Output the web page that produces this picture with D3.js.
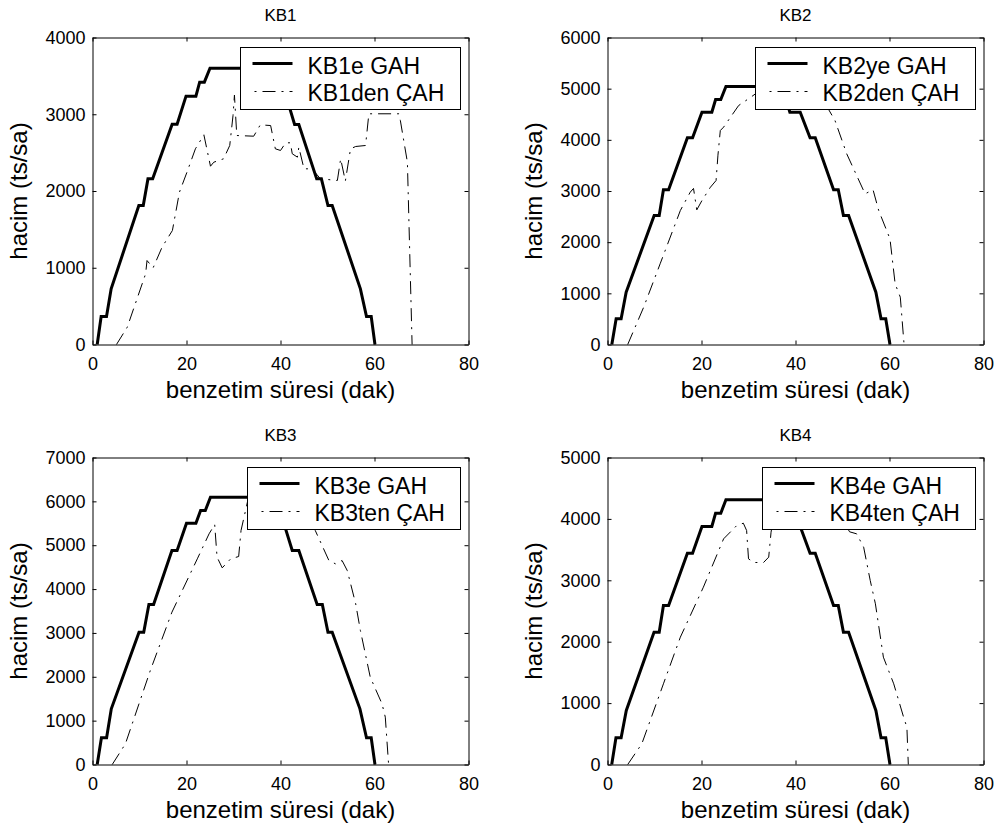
<!DOCTYPE html>
<html>
<head>
<meta charset="utf-8">
<script src="https://cdn.jsdelivr.net/npm/d3@7"></script>
<style>
body { margin: 0; background: #fff; }
text { font-family: "Liberation Sans", Arial, Helvetica, sans-serif; fill: #000; }
</style>
</head>
<body>
<svg id="chart" width="999" height="834"></svg>
<script>
// benzetim süresi (dak) on x, hacim (ts/sa) on y
var xTicks = [0, 20, 40, 60, 80];

var kb1YTicks = [0, 1000, 2000, 3000, 4000];
var kb2YTicks = [0, 1000, 2000, 3000, 4000, 5000, 6000];
var kb3YTicks = [0, 1000, 2000, 3000, 4000, 5000, 6000, 7000];
var kb4YTicks = [0, 1000, 2000, 3000, 4000, 5000];

var kb1Names = ["KB1e GAH", "KB1den ÇAH"];
var kb2Names = ["KB2ye GAH", "KB2den ÇAH"];
var kb3Names = ["KB3e GAH", "KB3ten ÇAH"];
var kb4Names = ["KB4e GAH", "KB4ten ÇAH"];

var kb1Gah = [[1.0,0],[1.84,365],[2.98,365],[3.97,725],[9.86,1811],[10.8,1811],[11.8,2158],[12.8,2158],
  [16.95,2871],[18.0,2871],[19.9,3236],[22.0,3236],[22.8,3418],[23.8,3418],[25.0,3600],[36.1,3600],
  [37.3,3418],[38.3,3418],[39.1,3236],[41.2,3236],[43.0,2866],[43.9,2866],[47.7,2158],[48.7,2158],
  [50.1,1811],[51.0,1811],[57.0,725],[58.3,365],[59.3,365],[60.1,0]];
var kb1Cah = [[5.1,0],[7.4,226],[11.3,921],[11.6,1094],[12.9,999],[14.8,1268],[17,1485],[18.5,1985],
  [20.1,2245],[21.9,2550],[23.7,2732],[25.1,2323],[25.8,2375],[27.9,2420],[29.2,2593],[29.9,2984],
  [30.2,3250],[30.7,2723],[34.3,2714],[35.7,2862],[37.9,2853],[38.9,2550],[40,2528],[41.1,2628],
  [42.1,2628],[42.5,2485],[43.6,2441],[43.9,2571],[45,2289],[46.7,2289],[48.5,2159],[52.1,2137],
  [52.8,2419],[53.8,2130],[54.9,2550],[56,2580],[58.1,2593],[58.8,3006],[65.2,3006],[65.5,2919],
  [67,2375],[68.0,0]];

var kb2Gah = [[0.92,0],[1.84,502],[2.9,502],[3.97,1023],[9.93,2521],[11,2521],[11.9,3023],[13,3023],
  [17,4039],[18.1,4039],[20.1,4541],[22.2,4541],[23,4788],[24.1,4788],[25.2,5042],[35.8,5042],
  [36.9,4788],[38,4788],[38.8,4541],[41,4541],[43.1,4039],[44.2,4039],[48.1,3023],[49.1,3023],
  [50.2,2521],[51.3,2521],[57.1,1023],[58.2,502],[59.2,502],[60.1,0]];
var kb2Cah = [[4.3,0],[7.7,730],[11.2,1577],[15.5,2619],[17.6,2977],[18.3,3050],[19.0,2632],[20.1,2814],
  [21.9,3074],[23.1,3205],[23.5,3700],[24.0,4182],[24.7,4248],[27.9,4671],[30.5,4834],[33,5000],
  [38,5050],[43,4950],[47,4600],[48.4,4378],[50.9,3726],[54.8,2945],[56.5,3023],[57.7,2619],
  [60.1,2065],[61.2,1186],[62.3,925],[63.1,0]];

var kb3Gah = [[1.0,0],[1.9,608],[3.0,608],[4.0,1269],[9.9,3017],[10.9,3017],[12,3648],[13,3648],
  [16.9,4880],[18,4880],[20,5503],[22,5503],[23,5791],[24,5791],[25.1,6096],[36,6096],
  [37,5791],[37.9,5791],[38.7,5503],[40.7,5503],[42.5,4880],[43.9,4880],[47.8,3648],[48.9,3648],
  [50.1,3017],[51,3017],[56.9,1269],[58.3,608],[59.3,608],[60.1,0]];
var kb3Cah = [[4.2,0],[7.0,471],[12.3,2143],[16.9,3473],[22.3,4689],[24.8,5259],[26.0,5472],[26.5,4728],
  [27.6,4484],[29.4,4689],[31.1,4742],[31.6,5335],[33,6000],[40,6100],[45,5800],[47.4,5335],
  [50.3,4651],[51.7,4575],[53.1,4651],[54.2,4423],[56,3663],[57,3055],[59.1,1991],[61.6,1383],
  [62.3,1079],[63.0,0]];

var kb4Gah = [[0.9,0],[1.8,434],[2.9,434],[4.0,880],[9.9,2155],[11,2155],[11.9,2590],[13,2590],
  [17,3442],[18.1,3442],[20.1,3876],[22.2,3876],[23,4093],[24.1,4093],[25.2,4311],[35.8,4311],
  [36.9,4093],[38,4093],[38.8,3876],[41,3876],[43.1,3442],[44.2,3442],[48.1,2590],[49.1,2590],
  [50.2,2155],[51.3,2155],[57.1,880],[58.2,434],[59.2,434],[60.1,0]];
var kb4Cah = [[4.3,0],[7.3,337],[11.9,1314],[15.5,2074],[20.4,2888],[24.7,3675],[27.5,3892],[28.9,3930],
  [29.6,3811],[30,3350],[31.1,3290],[33.2,3290],[34.3,3377],[34.8,3784],[35.5,4100],[44,4250],
  [50,4000],[51.5,3790],[53,3757],[54.5,3540],[55.9,2997],[57,2617],[58.7,1748],[60.9,1314],
  [63,771],[63.7,608],[64,0]];

var plotW = 376;
var plotH = 307;
var dashDot = "13,6,2,6";

var svg = d3.select("#chart");

drawPanel(92.5, 37.5, "KB1", kb1YTicks, kb1Gah, kb1Cah, kb1Names);
drawPanel(607.5, 37.5, "KB2", kb2YTicks, kb2Gah, kb2Cah, kb2Names);
drawPanel(92.5, 457.5, "KB3", kb3YTicks, kb3Gah, kb3Cah, kb3Names);
drawPanel(607.5, 457.5, "KB4", kb4YTicks, kb4Gah, kb4Cah, kb4Names);

function drawPanel(left, top, title, yTicks, gah, cah, names) {
  var x = d3.scaleLinear().domain([0, 80]).range([left, left + plotW]);
  var y = d3.scaleLinear().domain([0, yTicks[yTicks.length - 1]]).range([top + plotH, top]);

  var g = svg.append("g");

  // box with inward ticks on all four sides
  var bottom = g.append("g").attr("transform", "translate(0," + (top + plotH) + ")")
    .call(d3.axisBottom(x).tickValues(xTicks).tickSize(-4).tickSizeOuter(0).tickPadding(13));
  var leftAx = g.append("g").attr("transform", "translate(" + left + ",0)")
    .call(d3.axisLeft(y).tickValues(yTicks).tickFormat(d3.format("d")).tickSize(-4).tickSizeOuter(0).tickPadding(7));
  g.append("g").attr("transform", "translate(0," + top + ")")
    .call(d3.axisTop(x).tickValues(xTicks).tickSize(-4).tickSizeOuter(0).tickFormat(""));
  g.append("g").attr("transform", "translate(" + (left + plotW) + ",0)")
    .call(d3.axisRight(y).tickValues(yTicks).tickSize(-4).tickSizeOuter(0).tickFormat(""));

  g.selectAll(".domain, .tick line").attr("stroke", "#000").attr("stroke-width", 1);
  g.selectAll("g").attr("font-family", null).attr("font-size", null);
  bottom.selectAll("text").style("font-size", "18px");
  leftAx.selectAll("text").style("font-size", "18px");

  var line = d3.line().x(function(d) { return x(d[0]); }).y(function(d) { return y(d[1]); });

  g.append("path").datum(cah).attr("d", line)
    .attr("fill", "none").attr("stroke", "#000").attr("stroke-width", 1)
    .attr("stroke-dasharray", dashDot);
  g.append("path").datum(gah).attr("d", line)
    .attr("fill", "none").attr("stroke", "#000").attr("stroke-width", 3);

  // title and axis labels
  g.append("text").attr("x", left + plotW / 2).attr("y", top - 17)
    .attr("text-anchor", "middle").style("font-size", "17px").text(title);
  g.append("text").attr("x", left + plotW / 2).attr("y", top + plotH + 53)
    .attr("text-anchor", "middle").style("font-size", "24px").text("benzetim süresi (dak)");
  g.append("text").attr("transform", "translate(" + (left - 66) + "," + (top + plotH / 2) + ") rotate(-90)")
    .attr("text-anchor", "middle").style("font-size", "24px").text("hacim (ts/sa)");

  // legend
  var lg = g.append("g");
  var box = lg.append("rect").attr("y", top + 10).attr("height", 62)
    .attr("fill", "#fff").attr("stroke", "#000").attr("stroke-width", 1);
  var items = lg.selectAll(".item").data(names).enter().append("g").attr("class", "item");
  var labels = items.append("text").attr("y", function(d, i) { return top + 36 + i * 27; })
    .style("font-size", "23px").text(function(d) { return d; });
  var maxW = d3.max(labels.nodes(), function(n) { return n.getComputedTextLength(); });
  var bw = Math.round(67 + maxW + 16);
  var bx = Math.round(left + plotW - 9 - bw) + 0.5;
  box.attr("x", bx).attr("width", bw);
  labels.attr("x", bx + 67);
  items.append("line")
    .attr("x1", bx + 12).attr("x2", bx + 52)
    .attr("y1", function(d, i) { return top + 26 + i * 28; })
    .attr("y2", function(d, i) { return top + 26 + i * 28; })
    .attr("stroke", "#000")
    .attr("stroke-width", function(d, i) { return i == 0 ? 3 : 1; })
    .attr("stroke-dasharray", function(d, i) { return i == 0 ? null : dashDot; })
    .attr("stroke-dashoffset", 17);
}
</script>
</body>
</html>
